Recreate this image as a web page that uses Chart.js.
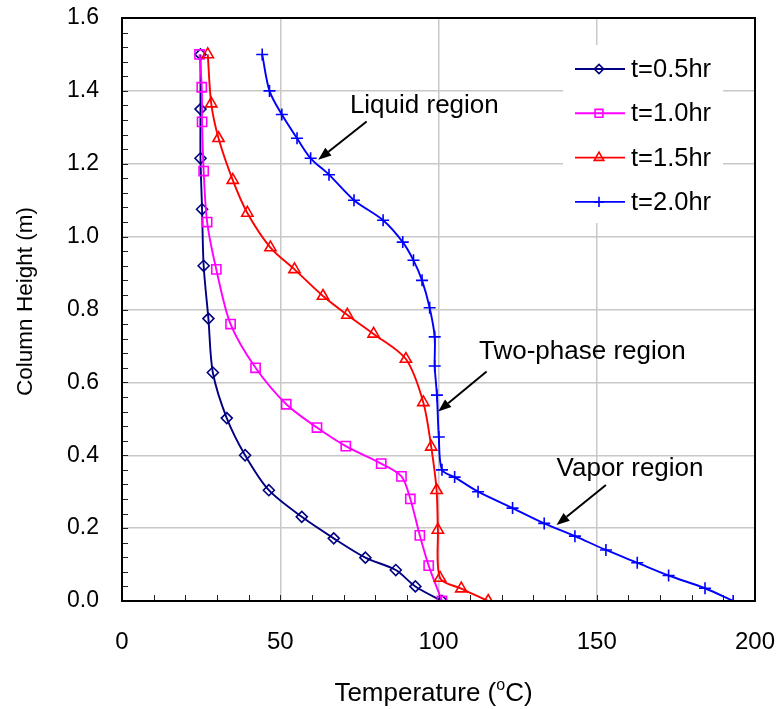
<!DOCTYPE html>
<html><head><meta charset="utf-8">
<script src="https://cdn.jsdelivr.net/npm/chart.js@4/dist/chart.umd.min.js"></script>
<style>html,body{margin:0;padding:0;background:#fff;}</style>
</head><body>
<canvas id="c" width="778" height="709" style="width:778px;height:709px;display:block"></canvas>
<script>
// ---- data (Temperature in °C, Column Height in m) ----
const seriesLabels = ['t=0.5hr', 't=1.0hr', 't=1.5hr', 't=2.0hr'];

const temp05   = [24.8, 24.8, 24.8, 25.3, 25.8, 27.3, 28.7, 33.1, 38.9, 46.4, 56.8, 66.9, 76.9, 86.5, 92.7, 101.1];
const height05 = [1.50, 1.35, 1.215, 1.075, 0.92, 0.775, 0.627, 0.502, 0.40, 0.304, 0.231, 0.172, 0.119, 0.085, 0.04, 0.0];

const temp10   = [24.5, 25.2, 25.3, 25.8, 26.9, 29.8, 34.3, 42.2, 51.9, 61.6, 70.7, 81.9, 88.3, 91.1, 94.1, 96.9, 101.1];
const height10 = [1.50, 1.41, 1.315, 1.18, 1.04, 0.91, 0.76, 0.64, 0.54, 0.476, 0.425, 0.377, 0.342, 0.28, 0.18, 0.097, 0.0];

const temp15   = [27.1, 28.2, 30.5, 35.0, 39.6, 46.9, 54.5, 63.5, 71.2, 79.5, 89.7, 95.2, 97.7, 99.4, 99.8, 100.5, 107.2, 115.7];
const height15 = [1.50, 1.365, 1.27, 1.155, 1.065, 0.97, 0.91, 0.837, 0.785, 0.733, 0.664, 0.545, 0.423, 0.304, 0.195, 0.063, 0.034, 0.0];

const temp20   = [44.3, 46.6, 50.5, 55.3, 59.6, 65.4, 73.3, 82.5, 88.7, 92.1, 94.8, 97.2, 98.8, 98.8, 99.5, 100.1, 101.1, 105.1, 112.5, 123.4, 133.4, 143.1, 152.9, 162.8, 172.7, 184.2, 193.1];
const height20 = [1.50, 1.40, 1.335, 1.27, 1.215, 1.17, 1.10, 1.045, 0.985, 0.935, 0.88, 0.805, 0.725, 0.645, 0.565, 0.45, 0.36, 0.34, 0.30, 0.255, 0.213, 0.178, 0.14, 0.105, 0.07, 0.035, 0.0];

const xTickValues = [0, 50, 100, 150, 200];
const yTickValues = [0.0, 0.2, 0.4, 0.6, 0.8, 1.0, 1.2, 1.4, 1.6];
const yAxisTitle = 'Column Height (m)';

const annotationTexts = ['Liquid region', 'Two-phase region', 'Vapor region'];
// text anchor (T, H) and arrow tail/head (T, H)
const annotationText = [[72.0, 1.338], [112.8, 0.664], [137.3, 0.344]];
const annotationArrowFrom = [[77.3, 1.316], [115.2, 0.630], [152.9, 0.3185]];
const annotationArrowTo = [[62.0, 1.211], [99.9, 0.520], [137.3, 0.2087]];

// ---- build datasets ----
const pts = (xs, ys) => xs.map((x, i) => ({x: x, y: ys[i]}));
const colors = ['#000080', '#FF00FF', '#FF0000', '#0000FF'];
const styles = ['rectRot', 'rect', 'triangle', 'cross'];
const radii = [5.5, 6.5, 6.5, 6];
const allData = [pts(temp05, height05), pts(temp10, height10), pts(temp15, height15), pts(temp20, height20)];

const datasets = allData.map((d, i) => ({
  label: seriesLabels[i],
  data: d,
  showLine: true,
  borderColor: colors[i],
  backgroundColor: 'rgba(0,0,0,0)',
  pointBorderColor: colors[i],
  pointBackgroundColor: 'rgba(0,0,0,0)',
  pointStyle: styles[i],
  pointRadius: radii[i],
  pointBorderWidth: 1.6,
  borderWidth: 1.9,
  tension: 0.3,
  order: 4 - i
}));

const FONT = "Arial, 'Liberation Sans', sans-serif";

function drawMarker(ctx, style, x, y, r) {
  ctx.beginPath();
  if (style === 'rectRot') {
    ctx.moveTo(x, y - r); ctx.lineTo(x + r, y); ctx.lineTo(x, y + r); ctx.lineTo(x - r, y); ctx.closePath();
  } else if (style === 'rect') {
    const s = r * Math.SQRT1_2; ctx.rect(x - s, y - s, 2 * s, 2 * s);
  } else if (style === 'triangle') {
    ctx.moveTo(x, y - r); ctx.lineTo(x + r * 0.866, y + r * 0.5); ctx.lineTo(x - r * 0.866, y + r * 0.5); ctx.closePath();
  } else {
    ctx.moveTo(x - r, y); ctx.lineTo(x + r, y); ctx.moveTo(x, y - r); ctx.lineTo(x, y + r);
  }
  ctx.stroke();
}

const decorPlugin = {
  id: 'decor',
  afterDraw(chart) {
    const ctx = chart.ctx, a = chart.chartArea;
    const xs = chart.scales.x, ys = chart.scales.y;
    ctx.save();
    // minor inward ticks
    ctx.strokeStyle = '#222'; ctx.lineWidth = 1;
    ctx.beginPath();
    for (let v = 10; v < 200; v += 10) {
      const px = Math.round(xs.getPixelForValue(v)) + 0.5;
      ctx.moveTo(px, a.bottom); ctx.lineTo(px, a.bottom - 6);
    }
    for (let k = 1; k < 40; k++) {
      const py = Math.round(ys.getPixelForValue(k * 0.04)) + 0.5;
      ctx.moveTo(a.left, py); ctx.lineTo(a.left + 6, py);
    }
    ctx.stroke();
    // frame
    ctx.strokeStyle = '#000'; ctx.lineWidth = 2;
    ctx.strokeRect(a.left, a.top, a.right - a.left, a.bottom - a.top);

    // annotations
    ctx.fillStyle = '#000'; ctx.strokeStyle = '#000';
    ctx.font = '26px ' + FONT; ctx.textAlign = 'left'; ctx.textBaseline = 'alphabetic';
    annotationTexts.forEach((t, i) => {
      ctx.fillText(t, xs.getPixelForValue(annotationText[i][0]), ys.getPixelForValue(annotationText[i][1]));
      const x1 = xs.getPixelForValue(annotationArrowFrom[i][0]), y1 = ys.getPixelForValue(annotationArrowFrom[i][1]);
      const x2 = xs.getPixelForValue(annotationArrowTo[i][0]), y2 = ys.getPixelForValue(annotationArrowTo[i][1]);
      const ang = Math.atan2(y2 - y1, x2 - x1), L = 13, W = 5;
      const bx = x2 - L * Math.cos(ang), by = y2 - L * Math.sin(ang);
      ctx.lineWidth = 2;
      ctx.beginPath(); ctx.moveTo(x1, y1); ctx.lineTo(bx, by); ctx.stroke();
      ctx.beginPath();
      ctx.moveTo(x2, y2);
      ctx.lineTo(bx + W * Math.sin(ang), by - W * Math.cos(ang));
      ctx.lineTo(bx - W * Math.sin(ang), by + W * Math.cos(ang));
      ctx.closePath(); ctx.fill();
    });

    // legend
    const lx = a.right - 192, ly = a.top + 27;
    ctx.fillStyle = '#fff';
    ctx.fillRect(lx, ly, 160, 178);
    chart.data.datasets.forEach((ds, i) => {
      const cy = a.top + 51 + i * 44.3;
      ctx.strokeStyle = ds.borderColor; ctx.lineWidth = 1.9;
      ctx.beginPath(); ctx.moveTo(lx + 12, cy); ctx.lineTo(lx + 62, cy); ctx.stroke();
      ctx.lineWidth = 1.6;
      drawMarker(ctx, ds.pointStyle, lx + 36, cy, ds.pointRadius * 0.85);
      ctx.fillStyle = '#000'; ctx.font = '25.5px ' + FONT; ctx.textBaseline = 'middle';
      ctx.fillText(ds.label, lx + 68, cy + 1);
    });

    // y axis title
    ctx.save();
    ctx.translate(26, (a.top + a.bottom) / 2 - 8);
    ctx.rotate(-Math.PI / 2);
    ctx.font = '22.5px ' + FONT; ctx.textAlign = 'center'; ctx.textBaseline = 'middle';
    ctx.fillStyle = '#000';
    ctx.fillText(yAxisTitle, 0, 0);
    ctx.restore();

    // x axis title with superscript
    ctx.fillStyle = '#000'; ctx.textBaseline = 'alphabetic'; ctx.textAlign = 'left';
    const p1 = 'Temperature (', p3 = 'C)';
    ctx.font = '26px ' + FONT;
    const w1 = ctx.measureText(p1).width, w3 = ctx.measureText(p3).width;
    ctx.font = '16px ' + FONT;
    const w2 = ctx.measureText('o').width;
    const tot = w1 + w2 + w3;
    let sx = (a.left + a.right) / 2 - 5 - tot / 2;
    const base = 701;
    ctx.font = '26px ' + FONT; ctx.fillText(p1, sx, base); sx += w1;
    ctx.font = '16px ' + FONT; ctx.fillText('o', sx, base - 11); sx += w2;
    ctx.font = '26px ' + FONT; ctx.fillText(p3, sx, base);
    ctx.restore();
  }
};

function zeroPad(s) { s.paddingTop = 0; s.paddingBottom = 0; s.paddingLeft = 0; s.paddingRight = 0; }

new Chart(document.getElementById('c'), {
  type: 'scatter',
  data: { datasets: datasets },
  options: {
    responsive: false,
    animation: false,
    devicePixelRatio: 1,
    layout: { padding: { top: 18, right: 23, left: 0, bottom: 0 } },
    plugins: { legend: { display: false }, tooltip: { enabled: false } },
    scales: {
      x: {
        type: 'linear', min: 0, max: 200,
        afterBuildTicks: s => { s.ticks = xTickValues.map(v => ({value: v})); },
        afterFit: s => { s.height = 108; zeroPad(s); },
        ticks: { color: '#000', font: { size: 24, family: FONT }, padding: 27, maxRotation: 0 },
        grid: { color: '#c8c8c8', lineWidth: 1.5, drawTicks: false },
        border: { color: '#000', width: 2 },
        title: { display: false }
      },
      y: {
        type: 'linear', min: 0, max: 1.6,
        afterBuildTicks: s => { s.ticks = yTickValues.map(v => ({value: v})); },
        afterFit: s => { s.width = 122; zeroPad(s); },
        ticks: { color: '#000', font: { size: 23, family: FONT }, padding: 23, callback: v => Number(v).toFixed(1) },
        grid: { color: '#c8c8c8', lineWidth: 1.5, drawTicks: false },
        border: { color: '#000', width: 2 },
        title: { display: false, text: yAxisTitle }
      }
    }
  },
  plugins: [decorPlugin]
});
</script>
</body></html>
